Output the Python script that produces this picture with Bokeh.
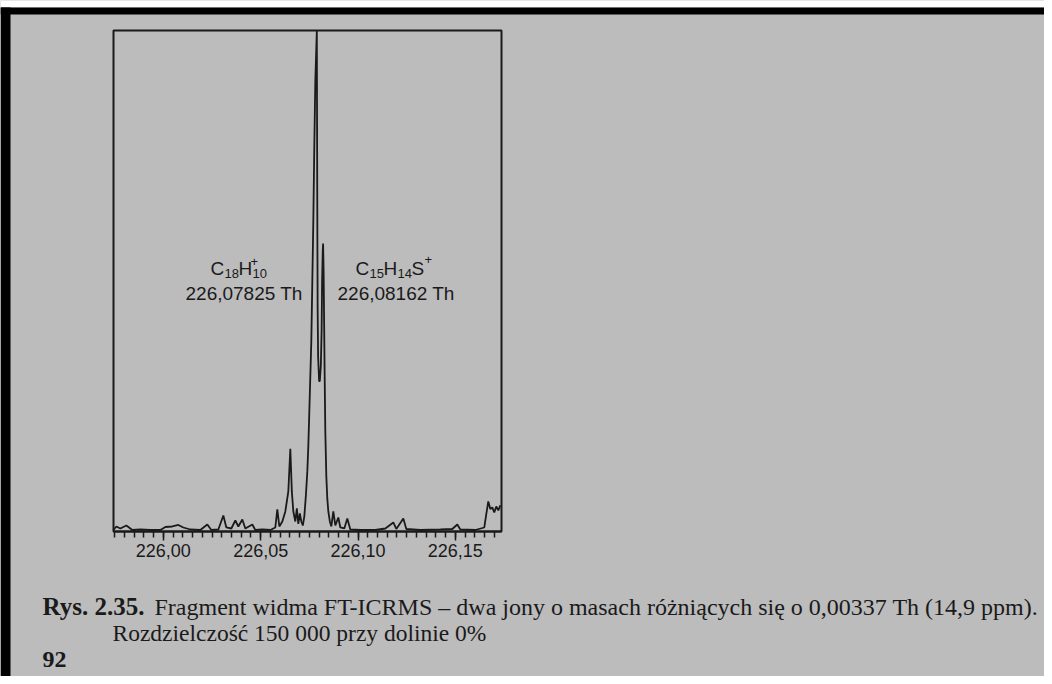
from bokeh.plotting import figure
from bokeh.models import Label, BoxAnnotation, FixedTicker, Range1d
from bokeh.embed import file_html
from bokeh.resources import INLINE

# ---------------- data ----------------
mass = [225.97432, 225.97586, 225.97792, 225.98100, 225.98408, 225.98819, 225.99332,
        225.99846, 226.00103, 226.00462, 226.00770, 226.01027, 226.01387, 226.01900,
        226.02260, 226.02465, 226.02825, 226.03082, 226.03236, 226.03493, 226.03698,
        226.03852, 226.04058, 226.04212, 226.04571, 226.04725, 226.05085, 226.05496,
        226.05752, 226.05855, 226.05958, 226.06112, 226.06266, 226.06420, 226.06523,
        226.06600, 226.06677, 226.06780, 226.06857, 226.06934, 226.07011, 226.07088,
        226.07165, 226.07242, 226.07319, 226.07396, 226.07447, 226.07499, 226.07550,
        226.07601, 226.07653, 226.07704, 226.07755, 226.07807, 226.07884, 226.07904,
        226.07925, 226.07950, 226.08002, 226.08037, 226.08089, 226.08130, 226.08156,
        226.08187, 226.08207, 226.08233, 226.08258, 226.08284, 226.08320, 226.08372,
        226.08423, 226.08475, 226.08552, 226.08629, 226.08731, 226.08834, 226.08988,
        226.09091, 226.09296, 226.09450, 226.09604, 226.10118, 226.10889, 226.11402,
        226.11813, 226.11967, 226.12327, 226.12481, 226.13200, 226.14227, 226.14843,
        226.15100, 226.15254, 226.16025, 226.16487, 226.16590, 226.16692, 226.16795,
        226.16898, 226.17000, 226.17103, 226.17206, 226.17309]
intensity = [0.3, 1.0, 0.6, 1.2, 0.3, 0.4, 0.3,
             0.3, 0.9, 1.0, 1.3, 0.8, 0.4, 0.3,
             1.4, 0.3, 0.4, 3.2, 0.8, 0.6, 2.2,
             1.0, 2.4, 0.6, 1.4, 0.3, 0.4, 0.3,
             0.8, 4.4, 1.0, 2.0, 4.0, 8.0, 16.5,
             8.0, 4.0, 2.0, 4.6, 1.5, 3.6, 2.0,
             1.2, 3.0, 7.0, 12.0, 17.0, 24.0, 31.0,
             38.0, 50.0, 62.0, 77.0, 90.0, 100.0, 70.0,
             45.0, 35.0, 30.0, 30.0, 33.0, 40.0, 50.0,
             56.0, 57.5, 52.0, 42.0, 32.0, 20.0, 11.0,
             6.5, 4.0, 2.0, 1.0, 4.0, 1.2, 2.8,
             0.8, 0.6, 2.6, 0.4, 0.3, 0.3, 0.6,
             1.8, 0.5, 2.6, 0.5, 0.3, 0.4, 0.5,
             1.4, 0.4, 0.3, 0.8, 3.5, 6.0, 4.5,
             4.8, 3.8, 5.0, 4.2, 5.2]

major_ticks = [226.00, 226.05, 226.10, 226.15]
major_labels = ["226,00", "226,05", "226,10", "226,15"]
minor_ticks = [round(225.975 + 0.005 * i, 3) for i in range(40)]

caption_bold = "Rys. 2.35."
caption_line1 = "Fragment widma FT-ICRMS \u2013 dwa jony o masach r\u00f3\u017cni\u0105cych si\u0119 o 0,00337 Th (14,9 ppm)."
caption_line2 = "Rozdzielczo\u015b\u0107 150 000 przy dolinie 0%"
page_number = "92"
ion1_mass = "226,07825 Th"
ion2_mass = "226,08162 Th"

# ---------------- layout constants (picture pixels) ----------------
W, H = 1044, 676
FL, FR, FT, FB = 113, 501, 30, 531          # spectrum box edges
X0, X1 = 225.9744, 226.1737                 # mass range of the box
BG = "#bcbcbc"
INK = "#1a1a1a"
DY = 7                                      # label baseline correction


def px2m(px):
    return X0 + (px - FL) / (FR - FL) * (X1 - X0)


def py2i(py):
    return (FB - py) / (FB - FT) * 100.0


p = figure(width=W, height=H,
           x_range=Range1d(px2m(0), px2m(W)), y_range=Range1d(py2i(H), py2i(0)),
           output_backend="svg", toolbar_location=None, y_axis_location=None,
           min_border=0, min_border_left=0, min_border_right=0,
           min_border_top=0, min_border_bottom=0)
p.background_fill_color = BG
p.border_fill_color = BG
p.outline_line_color = None
p.grid.visible = False

ax = p.xaxis[0]
ax.fixed_location = 0
ax.bounds = (X0, X1)
ax.ticker = FixedTicker(ticks=major_ticks, minor_ticks=minor_ticks)
ax.major_label_overrides = {t: l for t, l in zip(major_ticks, major_labels)}
ax.axis_line_color = INK
ax.axis_line_width = 2
ax.major_tick_line_color = INK
ax.minor_tick_line_color = INK
ax.major_tick_line_width = 1.5
ax.minor_tick_line_width = 1.5
ax.major_tick_in = 0
ax.minor_tick_in = 0
ax.major_tick_out = 9
ax.minor_tick_out = 6
ax.major_label_standoff = 3
ax.major_label_text_font = "Liberation Sans"
ax.major_label_text_font_size = "18px"
ax.major_label_text_color = INK

# spectrum box
p.quad(left=[X0], right=[X1], bottom=[0], top=[100], fill_alpha=0,
       line_color=INK, line_width=2)

p.line(mass, intensity, line_color=INK, line_width=1.8)


def txt(px, py, s, size, font="Liberation Sans", bold=False):
    p.add_layout(Label(x=px2m(px), y=py2i(py - DY), text=s, text_font=font,
                       text_font_size=f"{size}px", text_color=INK,
                       text_font_style="bold" if bold else "normal",
                       text_align="left", text_baseline="alphabetic"))


# ion labels
txt(210, 275, "C", 19)
txt(224, 280, "18", 13)
txt(238, 275, "H", 19)
txt(252, 280, "10", 13)
txt(250, 268, "+", 13)
txt(185, 300, ion1_mass, 19)

txt(355, 275, "C", 19)
txt(369, 280, "15", 13)
txt(383, 275, "H", 19)
txt(397, 280, "14", 13)
txt(411, 275, "S", 19)
txt(424, 266, "+", 13)
txt(337, 300, ion2_mass, 19)

# caption
txt(42, 613, caption_bold, 25, font="Liberation Serif", bold=True)
txt(154, 613, caption_line1, 24, font="Liberation Serif")
txt(112, 639, caption_line2, 23.5, font="Liberation Serif")
txt(42, 666, page_number, 24, font="Liberation Serif", bold=True)

# scan edges: white strip on top, black bands
p.add_layout(BoxAnnotation(left=px2m(0), right=px2m(W), top=py2i(0), bottom=py2i(7),
                           fill_color="white", fill_alpha=1, line_alpha=0))
p.add_layout(BoxAnnotation(left=px2m(0), right=px2m(W), top=py2i(7), bottom=py2i(14),
                           fill_color="black", fill_alpha=1, line_alpha=0))
p.add_layout(BoxAnnotation(left=px2m(0), right=px2m(10), top=py2i(7), bottom=py2i(H),
                           fill_color="black", fill_alpha=1, line_alpha=0))

open("out.html", "w").write(file_html(p, INLINE))
